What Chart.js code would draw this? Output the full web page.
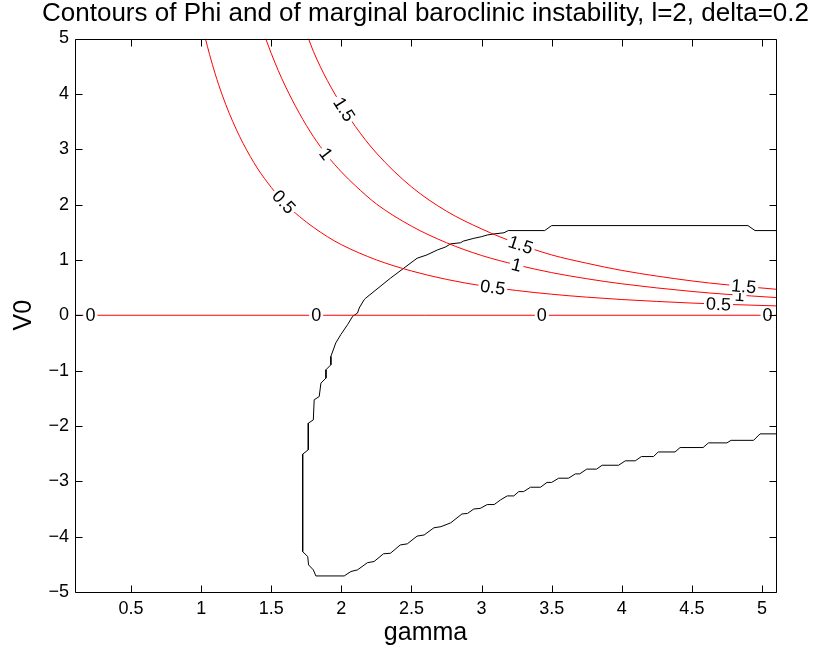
<!DOCTYPE html>
<html><head><meta charset="utf-8">
<script src="https://cdn.jsdelivr.net/npm/chart.js@4.4.0/dist/chart.umd.min.js"></script>
<style>html,body{margin:0;padding:0;background:#fff;}canvas{display:block;}</style>
</head><body>
<canvas id="c" width="829" height="654" style="width:829px;height:654px"></canvas>
<script>
// ---- tick labels ----
const xTicks = [0.5, 1, 1.5, 2, 2.5, 3, 3.5, 4, 4.5, 5];
const yTicks = [-5, -4, -3, -2, -1, 0, 1, 2, 3, 4, 5];

// ---- Phi contours (red) ----
const gammaPhi0 = [0.1, 5.1];
const v0Phi0 = [0, 0];
const gammaPhi05 = [1.03, 1.06, 1.1, 1.15, 1.2, 1.25, 1.3, 1.4, 1.5, 1.6, 1.7, 1.8, 1.9, 2.0, 2.25, 2.5, 2.75, 3.0, 3.25, 3.5, 3.75, 4.0, 4.5, 4.75, 5.1];
const v0Phi05 = [5.0, 4.71, 4.36, 3.98, 3.65, 3.36, 3.10, 2.66, 2.31, 2.02, 1.785, 1.59, 1.42, 1.275, 1.0, 0.80, 0.648, 0.533, 0.447, 0.38, 0.327, 0.284, 0.22, 0.196, 0.169];
const gammaPhi1 = [1.46, 1.5, 1.55, 1.6, 1.7, 1.8, 1.9, 2.0, 2.1, 2.25, 2.5, 2.75, 3.0, 3.25, 3.5, 3.75, 4.0, 4.5, 4.75, 5.1];
const v0Phi1 = [5.0, 4.73, 4.42, 4.14, 3.65, 3.23, 2.88, 2.59, 2.34, 2.01, 1.61, 1.31, 1.08, 0.91, 0.77, 0.66, 0.568, 0.43, 0.378, 0.32];
const gammaPhi15 = [1.765, 1.8, 1.85, 1.9, 2.0, 2.1, 2.25, 2.5, 2.75, 3.0, 3.25, 3.5, 3.75, 4.0, 4.5, 4.75, 5.1];
const v0Phi15 = [5.0, 4.77, 4.49, 4.24, 3.8, 3.41, 2.93, 2.32, 1.88, 1.56, 1.30, 1.09, 0.94, 0.81, 0.62, 0.55, 0.47];

// ---- contour label positions (gamma) ----
const labelPhi0 = [0.21, 1.82, 3.43, 5.04];
const labelPhi05 = [1.59, 3.08, 4.69];
const labelPhi1 = [1.89, 3.25, 4.84];
const labelPhi15 = [2.02, 3.28, 4.87];

// ---- marginal baroclinic instability contour (black) ----
const gammaMarginal = [5.10, 4.95, 4.90, 3.50, 3.45, 3.19, 3.16, 3.09, 3.04, 3.0, 2.945, 2.87, 2.85, 2.78, 2.74, 2.685, 2.61, 2.54, 2.35, 2.174, 2.162, 2.127, 2.115, 2.08, 2.044, 1.996, 1.96, 1.925, 1.925, 1.89, 1.89, 1.854, 1.842, 1.806, 1.80, 1.764, 1.764, 1.724, 1.724, 1.76, 1.766, 1.80, 1.818, 2.02, 2.068, 2.115, 2.186, 2.233, 2.30, 2.35, 2.42, 2.47, 2.54, 2.59, 2.66, 2.71, 2.78, 2.86, 2.90, 2.945, 2.99, 3.04, 3.09, 3.135, 3.183, 3.23, 3.265, 3.30, 3.349, 3.42, 3.467, 3.50, 3.55, 3.62, 3.669, 3.70, 3.75, 3.82, 3.86, 3.977, 4.025, 4.096, 4.14, 4.226, 4.26, 4.38, 4.416, 4.58, 4.618, 4.749, 4.78, 4.94, 4.986, 5.10];
const v0Marginal = [1.53, 1.53, 1.62, 1.62, 1.53, 1.53, 1.49, 1.47, 1.45, 1.42, 1.39, 1.34, 1.31, 1.29, 1.23, 1.18, 1.09, 1.03, 0.67, 0.31, 0.28, 0.13, 0.04, -0.02, -0.17, -0.35, -0.50, -0.745, -0.895, -0.985, -1.136, -1.226, -1.468, -1.528, -1.89, -1.95, -2.43, -2.51, -4.27, -4.36, -4.51, -4.60, -4.71, -4.71, -4.63, -4.60, -4.47, -4.45, -4.31, -4.30, -4.15, -4.13, -3.99, -3.97, -3.84, -3.82, -3.75, -3.59, -3.58, -3.50, -3.49, -3.42, -3.42, -3.336, -3.264, -3.264, -3.186, -3.186, -3.107, -3.107, -3.02, -3.02, -2.944, -2.944, -2.866, -2.866, -2.78, -2.78, -2.71, -2.71, -2.63, -2.63, -2.553, -2.553, -2.47, -2.47, -2.39, -2.39, -2.306, -2.306, -2.26, -2.26, -2.143, -2.143];

const FONT = "'Liberation Sans', Arial, Helvetica, sans-serif";
Chart.defaults.font.family = FONT;
Chart.defaults.color = '#000';

function pts(xs, ys) { return xs.map((x, i) => ({x: x, y: ys[i]})); }
function fmt(v) { return v < 0 ? '\u2212' + String(Math.abs(v)) : String(v); }

function interpY(xs, ys, x) {
  for (let i = 0; i < xs.length - 1; i++) {
    if (x >= xs[i] && x <= xs[i + 1]) {
      const t = (x - xs[i]) / (xs[i + 1] - xs[i]);
      return ys[i] + t * (ys[i + 1] - ys[i]);
    }
  }
  return x < xs[0] ? ys[0] : ys[ys.length - 1];
}

const contourLabels = [
  {xs: gammaPhi0, ys: v0Phi0, at: labelPhi0, text: '0'},
  {xs: gammaPhi05, ys: v0Phi05, at: labelPhi05, text: '0.5'},
  {xs: gammaPhi1, ys: v0Phi1, at: labelPhi1, text: '1'},
  {xs: gammaPhi15, ys: v0Phi15, at: labelPhi15, text: '1.5'}
];

const clabelPlugin = {
  id: 'clabel',
  afterDatasetsDraw(chart) {
    const ctx = chart.ctx, sx = chart.scales.x, sy = chart.scales.y;
    ctx.save();
    ctx.font = '18px ' + FONT;
    ctx.textAlign = 'center';
    ctx.textBaseline = 'middle';
    for (const c of contourLabels) {
      for (const g of c.at) {
        const px = sx.getPixelForValue(g), py = sy.getPixelForValue(interpY(c.xs, c.ys, g));
        const d = 0.03;
        const x1 = sx.getPixelForValue(g - d), y1 = sy.getPixelForValue(interpY(c.xs, c.ys, g - d));
        const x2 = sx.getPixelForValue(g + d), y2 = sy.getPixelForValue(interpY(c.xs, c.ys, g + d));
        const ang = Math.atan2(y2 - y1, x2 - x1);
        const w = ctx.measureText(c.text).width;
        ctx.save();
        ctx.translate(px, py);
        ctx.rotate(ang);
        ctx.fillStyle = '#fff';
        ctx.fillRect(-w / 2 - 2, -7, w + 4, 14);
        ctx.fillStyle = '#000';
        ctx.fillText(c.text, 0, 1);
        ctx.restore();
      }
    }
    ctx.restore();
  }
};

const framePlugin = {
  id: 'frame',
  afterDraw(chart) {
    const ctx = chart.ctx, a = chart.chartArea, sx = chart.scales.x, sy = chart.scales.y;
    const L = Math.round(a.left) + 0.5, R = Math.round(a.right) + 0.5, T = Math.round(a.top) + 0.5, B = Math.round(a.bottom) + 0.5;
    ctx.save();
    ctx.strokeStyle = '#000';
    ctx.lineWidth = 1;
    ctx.beginPath();
    ctx.rect(L, T, R - L, B - T);
    const tl = 7;
    for (const t of sx.ticks) {
      const p = Math.round(sx.getPixelForValue(t.value)) + 0.5;
      ctx.moveTo(p, B); ctx.lineTo(p, B - tl);
      ctx.moveTo(p, T); ctx.lineTo(p, T + tl);
    }
    for (const t of sy.ticks) {
      const p = Math.round(sy.getPixelForValue(t.value)) + 0.5;
      ctx.moveTo(L, p); ctx.lineTo(L + tl, p);
      ctx.moveTo(R, p); ctx.lineTo(R - tl, p);
    }
    ctx.stroke();
    ctx.restore();
  }
};

const red = '#ff0000';
const lineDs = (label, xs, ys, color, smooth) => ({
  label: label, data: pts(xs, ys), showLine: true, borderColor: color, backgroundColor: color,
  borderWidth: 1, pointRadius: 0, fill: false,
  cubicInterpolationMode: smooth ? 'monotone' : 'default', tension: 0
});

new Chart(document.getElementById('c'), {
  type: 'scatter',
  data: {
    datasets: [
      lineDs('Phi=0', gammaPhi0, v0Phi0, red, false),
      lineDs('Phi=0.5', gammaPhi05, v0Phi05, red, true),
      lineDs('Phi=1', gammaPhi1, v0Phi1, red, true),
      lineDs('Phi=1.5', gammaPhi15, v0Phi15, red, true),
      lineDs('marginal instability', gammaMarginal, v0Marginal, '#000000', false)
    ]
  },
  options: {
    responsive: false,
    animation: false,
    events: [],
    layout: {padding: {left: 22, right: 0, top: 0, bottom: 0}},
    plugins: {
      legend: {display: false},
      tooltip: {enabled: false},
      title: {
        display: true,
        text: 'Contours of Phi and of marginal baroclinic instability, l=2, delta=0.2',
        color: '#000',
        font: {size: 26, weight: 'normal', lineHeight: 1},
        padding: {top: 1, bottom: 11.5}
      }
    },
    scales: {
      x: {
        type: 'linear', position: 'bottom', min: 0.1, max: 5.1,
        afterBuildTicks: s => { s.ticks = xTicks.map(v => ({value: v})); },
        afterFit: s => { s.height = 62; },
        ticks: {font: {size: 18}, padding: 6, maxRotation: 0, autoSkip: false, callback: v => fmt(v)},
        grid: {display: false, drawTicks: false},
        border: {display: false},
        title: {display: true, text: 'gamma', font: {size: 25}, padding: {top: 0, bottom: 5.7}}
      },
      y: {
        type: 'linear', position: 'left', min: -5, max: 5,
        afterBuildTicks: s => { s.ticks = yTicks.map(v => ({value: v})); },
        afterFit: s => { s.width = 53; },
        ticks: {font: {size: 18}, padding: 6, autoSkip: false, callback: v => fmt(v)},
        grid: {display: false, drawTicks: false},
        border: {display: false},
        title: {display: true, text: 'V0', font: {size: 25}, padding: {top: -12.7, bottom: 0}}
      },
      yRight: {
        type: 'linear', position: 'right', min: -5, max: 5, display: true,
        afterFit: s => { s.width = 53; },
        ticks: {display: false},
        grid: {display: false, drawTicks: false},
        border: {display: false}
      }
    }
  },
  plugins: [clabelPlugin, framePlugin]
});
</script>
</body></html>
